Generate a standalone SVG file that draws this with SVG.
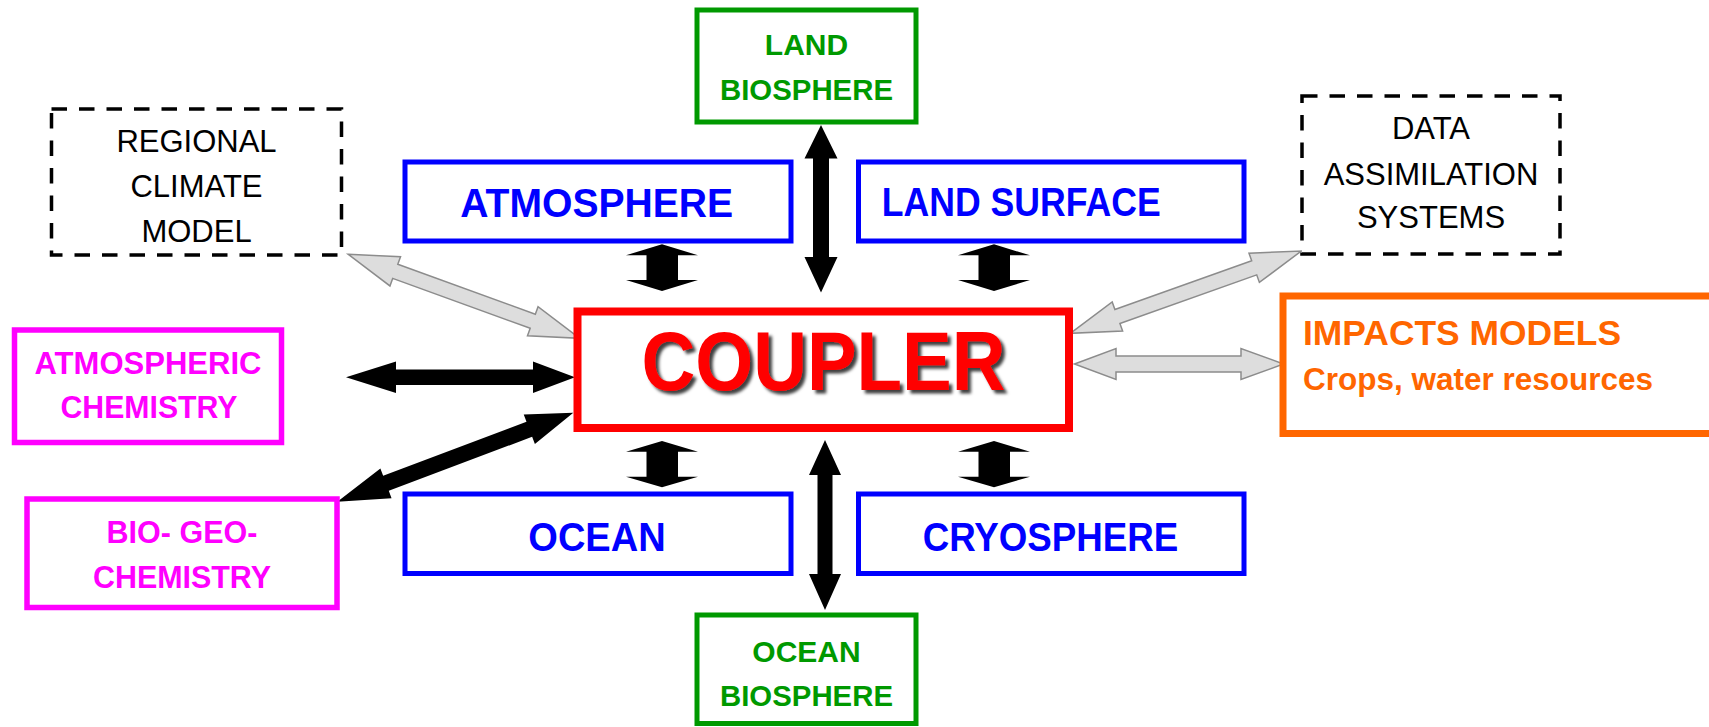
<svg xmlns="http://www.w3.org/2000/svg" width="1709" height="727" viewBox="0 0 1709 727">
<style>
  .box{fill:#fff;}
  .blue{stroke:#0000FF;stroke-width:5;fill:#fff;}
  .green{stroke:#009900;stroke-width:5;fill:#fff;}
  .pink{stroke:#FF00FF;stroke-width:5.5;fill:#fff;}
  .dash{stroke:#000;stroke-width:3.5;fill:#fff;stroke-dasharray:15.5 12;}
  .t{font-family:"Liberation Sans",Arial,sans-serif;text-anchor:middle;}
  .b{font-weight:bold;}
  .tb{fill:#0000FF;font-size:41px;}
  .tg{fill:#009900;font-size:30px;}
  .tp{fill:#FF00FF;font-size:30.5px;}
  .tk{fill:#000;font-size:31px;}
  .blk{fill:#000;}
  .gry{fill:#DDDDDD;stroke:#8C8C8C;stroke-width:1.5;stroke-linejoin:miter;}
</style>
<defs>
  <filter id="shadow" x="-10%" y="-20%" width="130%" height="150%">
    <feDropShadow dx="3.5" dy="3.5" stdDeviation="1.8" flood-color="#000" flood-opacity="0.75"/>
  </filter>
</defs>
<rect width="1709" height="727" fill="#fff"/>

<g id="connectors">
  <!-- gray: regional <-> coupler -->
  <polygon class="gry" transform="translate(464,296.3) rotate(19.94)" points="-123.15,0 -73.15,-15.5 -73.15,-7.5 73.15,-7.5 73.15,-15.5 123.15,0 73.15,15.5 73.15,7.5 -73.15,7.5 -73.15,15.5"/>
  <!-- gray: data assimilation <-> coupler -->
  <polygon class="gry" transform="translate(1185.8,292.15) rotate(-19.6)" points="-122.6,0 -72.6,-15.5 -72.6,-7.5 72.6,-7.5 72.6,-15.5 122.6,0 72.6,15.5 72.6,7.5 -72.6,7.5 -72.6,15.5"/>
  <!-- gray: impacts <-> coupler -->
  <polygon class="gry" points="1074.5,364 1116,348.5 1116,356 1241,356 1241,348.5 1283.5,364 1241,379.5 1241,372 1116,372 1116,379.5"/>
  <!-- black: atmospheric chemistry <-> coupler -->
  <polygon class="blk" points="346,377.3 396,361.5 396,369.5 533,369.5 533,361.5 575,377.3 533,393.1 533,385.1 396,385.1 396,393.1"/>
  <!-- black: bio-geo-chemistry <-> coupler -->
  <polygon class="blk" transform="translate(455.3,457.2) rotate(-20.66)" points="-126.1,0 -74.1,-15.8 -74.1,-8 79.1,-8 79.1,-15.8 126.1,0 79.1,15.8 79.1,8 -74.1,8 -74.1,15.8"/>
  <!-- black: land biosphere <-> coupler -->
  <polygon class="blk" points="821,125 837.5,158.5 829,158.5 829,257 837.5,257 821,292.5 804.5,257 813,257 813,158.5 804.5,158.5"/>
  <!-- black: coupler <-> ocean biosphere -->
  <polygon class="blk" points="825,440 841,475 832.5,475 832.5,574 841,574 825,610 809,574 817.5,574 817.5,475 809,475"/>
  <!-- short block arrows -->
  <polygon class="blk" points="662,244.3 698,255.3 678,255.3 678,280 698,280 662,291 626,280 646.5,280 646.5,255.3 626,255.3"/>
  <polygon class="blk" points="994,244.3 1030,255.3 1010,255.3 1010,280 1030,280 994,291 958,280 978.5,280 978.5,255.3 958,255.3"/>
  <polygon class="blk" points="662,441 698,451.7 678,451.7 678,476.7 698,476.7 662,487.3 626,476.7 646.5,476.7 646.5,451.7 626,451.7"/>
  <polygon class="blk" points="994,441 1030,451.7 1010,451.7 1010,476.7 1030,476.7 994,487.3 958,476.7 978.5,476.7 978.5,451.7 958,451.7"/>
</g>

<g id="coupler">
  <rect x="577.5" y="311.5" width="491.5" height="116.5" fill="#fff" stroke="#FF0000" stroke-width="8"/>
  <text class="t b" x="823.5" y="390" font-size="84" fill="#FF0000" textLength="364" lengthAdjust="spacingAndGlyphs" filter="url(#shadow)">COUPLER</text>
</g>

<g id="atmosphere">
  <rect class="blue" x="405" y="162" width="386" height="79"/>
  <text class="t b tb" x="596.7" y="216.7" textLength="273" lengthAdjust="spacingAndGlyphs">ATMOSPHERE</text>
</g>
<g id="land-surface">
  <rect class="blue" x="858.5" y="162" width="385.5" height="79"/>
  <text class="t b tb" x="1021.2" y="215.5" textLength="279" lengthAdjust="spacingAndGlyphs">LAND SURFACE</text>
</g>
<g id="ocean">
  <rect class="blue" x="405" y="494" width="386" height="79.5"/>
  <text class="t b tb" x="597" y="550.7" textLength="137.4" lengthAdjust="spacingAndGlyphs">OCEAN</text>
</g>
<g id="cryosphere">
  <rect class="blue" x="858.5" y="494" width="385.5" height="79.5"/>
  <text class="t b tb" x="1050.5" y="550.7" textLength="255.6" lengthAdjust="spacingAndGlyphs">CRYOSPHERE</text>
</g>

<g id="land-biosphere">
  <rect class="green" x="697" y="10" width="219" height="112"/>
  <text class="t b tg" x="806.5" y="55">LAND</text>
  <text class="t b tg" x="806.5" y="100" textLength="173" lengthAdjust="spacingAndGlyphs">BIOSPHERE</text>
</g>
<g id="ocean-biosphere">
  <rect class="green" x="697" y="615" width="219" height="108.5"/>
  <text class="t b tg" x="806.5" y="661.7">OCEAN</text>
  <text class="t b tg" x="806.5" y="706" textLength="173" lengthAdjust="spacingAndGlyphs">BIOSPHERE</text>
</g>

<g id="regional-climate-model">
  <rect class="dash" x="51.5" y="109" width="290" height="146"/>
  <text class="t tk" x="196.5" y="151.7">REGIONAL</text>
  <text class="t tk" x="196.5" y="197.3">CLIMATE</text>
  <text class="t tk" x="196.5" y="241.7">MODEL</text>
</g>
<g id="data-assimilation">
  <rect class="dash" x="1302" y="96" width="258" height="158"/>
  <text class="t tk" x="1431" y="139.3">DATA</text>
  <text class="t tk" x="1431" y="185">ASSIMILATION</text>
  <text class="t tk" x="1431" y="228.3">SYSTEMS</text>
</g>

<g id="atmospheric-chemistry">
  <rect class="pink" x="14.5" y="330" width="267" height="112.5"/>
  <text class="t b tp" x="148" y="374.3" textLength="227" lengthAdjust="spacingAndGlyphs">ATMOSPHERIC</text>
  <text class="t b tp" x="149" y="418.3" textLength="177" lengthAdjust="spacingAndGlyphs">CHEMISTRY</text>
</g>
<g id="bio-geo-chemistry">
  <rect class="pink" x="27" y="499" width="310" height="108.5"/>
  <text class="t b tp" x="182" y="542.7" xml:space="preserve">BIO- GEO-</text>
  <text class="t b tp" x="182" y="588.3" textLength="178" lengthAdjust="spacingAndGlyphs">CHEMISTRY</text>
</g>

<g id="impacts-models">
  <rect x="1283" y="296" width="460" height="137.5" fill="#fff" stroke="#FF6600" stroke-width="7"/>
  <text class="b" x="1303" y="345" font-family="'Liberation Sans',Arial,sans-serif" font-size="35" fill="#FF6600" textLength="318" lengthAdjust="spacingAndGlyphs">IMPACTS MODELS</text>
  <text class="b" x="1303" y="390" font-family="'Liberation Sans',Arial,sans-serif" font-size="31" fill="#FF6600" textLength="350" lengthAdjust="spacingAndGlyphs">Crops, water resources</text>
</g>
</svg>
